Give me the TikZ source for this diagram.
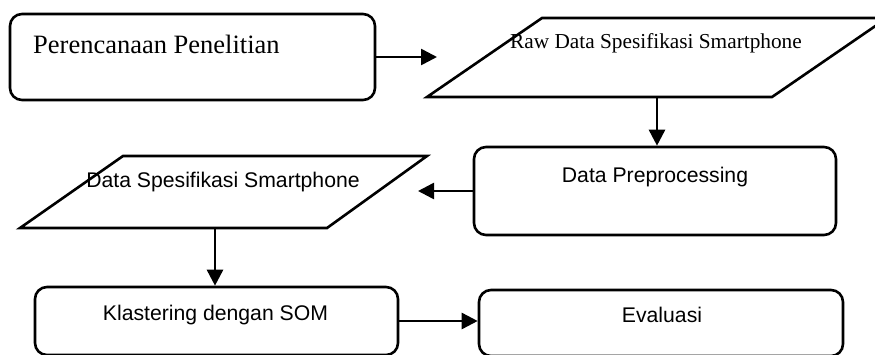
\documentclass[tikz,border=0pt]{standalone}
\usepackage{fontspec}
\setmainfont{Liberation Serif}
\newfontfamily\arialf{Liberation Sans}
\usetikzlibrary{arrows.meta}
\begin{document}
\begin{tikzpicture}[x=1pt,y=1pt,
  boxstyle/.style={draw, line width=2.6pt, rounded corners=12pt, inner sep=0pt},
  shapeline/.style={draw, line width=2.6pt, line join=miter},
  arr/.style={line width=2.6pt, -{Triangle[length=16pt,width=16pt]}},
  serifbig/.style={font=\fontsize{26.5}{30}\selectfont, inner sep=0pt},
  serifmid/.style={font=\fontsize{21.3}{25}\selectfont, inner sep=0pt},
  sansmid/.style={font=\arialf\fontsize{21.2}{25}\selectfont, inner sep=0pt}]
\useasboundingbox (0,0) rectangle (875,-354);
\clip (0,0) rectangle (875,-354);
\fill[white] (0,0) rectangle (875,-354);
% boxes
\node[boxstyle, minimum width=365pt, minimum height=86pt] (b1) at (192.5,-57) {};
\node[boxstyle, minimum width=362pt, minimum height=88pt] (dp) at (655,-191) {};
\node[boxstyle, minimum width=363pt, minimum height=68pt] (kl) at (216.5,-321) {};
\node[boxstyle, minimum width=364pt, minimum height=66pt] (ev) at (661,-323) {};
% parallelograms
\draw[shapeline] (427,-97) -- (772,-97) -- (887,-18) -- (542,-18) -- cycle;
\draw[shapeline] (20,-228) -- (327,-228) -- (427,-156) -- (123,-156) -- cycle;
\coordinate (p1in) at (437,-57);
\coordinate (p1out) at (657,-97);
\coordinate (p2in) at (418,-191);
\coordinate (p2out) at (215,-228);
% texts
\node[serifbig, anchor=base west] (t1) at (33,-53) {Perencanaan Penelitian};
\node[serifmid, anchor=base] (t2) at (656,-48) {Raw Data Spesifikasi Smartphone};
\node[sansmid, anchor=base] (t3) at (655,-182) {Data Preprocessing};
\node[sansmid, anchor=base] (t4) at (223,-187) {Data Spesifikasi Smartphone};
\node[sansmid, anchor=base] (t5) at (215.5,-320) {Klastering dengan SOM};
\node[sansmid, anchor=base] (t6) at (662,-322) {Evaluasi};
% connectors
\draw[arr] (b1.east) -- (p1in);
\draw[arr] (p1out) -- (p1out |- dp.north);
\draw[arr] (dp.west) -- (p2in);
\draw[arr] (p2out) -- (p2out |- kl.north);
\draw[arr] (kl.east) -- (kl.east -| ev.west);
\end{tikzpicture}
\end{document}
